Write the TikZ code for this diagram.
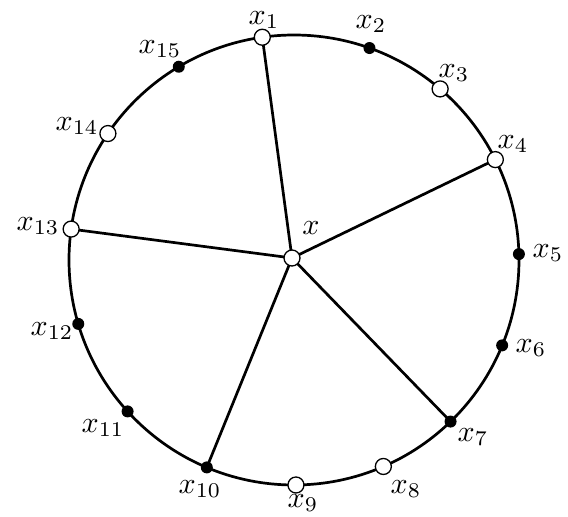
\documentclass[tikz,border=0pt]{standalone}
\begin{document}
\begin{tikzpicture}[x=1pt,y=1pt,
  opn/.style={circle,draw,fill=white,line width=1.3pt,minimum size=16pt,inner sep=0pt},
  fil/.style={circle,fill=black,minimum size=12pt,inner sep=0pt},
  lab/.style={inner sep=0pt,anchor=center,scale=3.0},
  edge/.style={line width=2.7pt}]
\useasboundingbox (0,0) rectangle (568,517);
\coordinate (C) at (294,257);
\draw[edge] (C) circle (225);
\coordinate (x1) at ([shift={(98.1:225)}]C);
\coordinate (x4) at ([shift={(26.5:225)}]C);
\coordinate (x7) at ([shift={(-45.9:225)}]C);
\coordinate (x10) at ([shift={(-112.8:225)}]C);
\coordinate (x13) at ([shift={(172.1:225)}]C);
\coordinate (x0) at (292,259);
\draw[edge] (x0) -- (x1);
\draw[edge] (x0) -- (x4);
\draw[edge] (x0) -- (x7);
\draw[edge] (x0) -- (x10);
\draw[edge] (x0) -- (x13);
\node[opn] (n0) at (x0) {};
\node[opn] (n1) at (x1) {};
\node[fil] (n2) at ([shift={(70.4:225)}]C) {};
\node[opn] (n3) at ([shift={(49.5:225)}]C) {};
\node[opn] (n4) at (x4) {};
\node[fil] (n5) at ([shift={(1.5:225)}]C) {};
\node[fil] (n6) at ([shift={(-22.3:225)}]C) {};
\node[fil] (n7) at (x7) {};
\node[opn] (n8) at ([shift={(-66.6:225)}]C) {};
\node[opn] (n9) at ([shift={(-89.5:225)}]C) {};
\node[fil] (n10) at (x10) {};
\node[fil] (n11) at ([shift={(-137.7:225)}]C) {};
\node[fil] (n12) at ([shift={(196.5:225)}]C) {};
\node[opn] (n13) at (x13) {};
\node[opn] (n14) at ([shift={(145.8:225)}]C) {};
\node[fil] (n15) at ([shift={(120.8:225)}]C) {};
\node[lab] (l0) at (311,289) {$x$};
\node[lab] (l1) at (264,497) {$x_1$};
\node[lab] (l2) at (371,493) {$x_2$};
\node[lab] (l3) at (454,444) {$x_3$};
\node[lab] (l4) at (513,373) {$x_4$};
\node[lab] (l5) at (548,264) {$x_5$};
\node[lab] (l6) at (531,169) {$x_6$};
\node[lab] (l7) at (473,80) {$x_7$};
\node[lab] (l8) at (406,28) {$x_8$};
\node[lab] (l9) at (303,14) {$x_9$};
\node[lab] (l10) at (200,28) {$x_{10}$};
\node[lab] (l11) at (103,89) {$x_{11}$};
\node[lab] (l12) at (52,186) {$x_{12}$};
\node[lab] (l13) at (38,291) {$x_{13}$};
\node[lab] (l14) at (77,391) {$x_{14}$};
\node[lab] (l15) at (160,468) {$x_{15}$};
\end{tikzpicture}
\end{document}
